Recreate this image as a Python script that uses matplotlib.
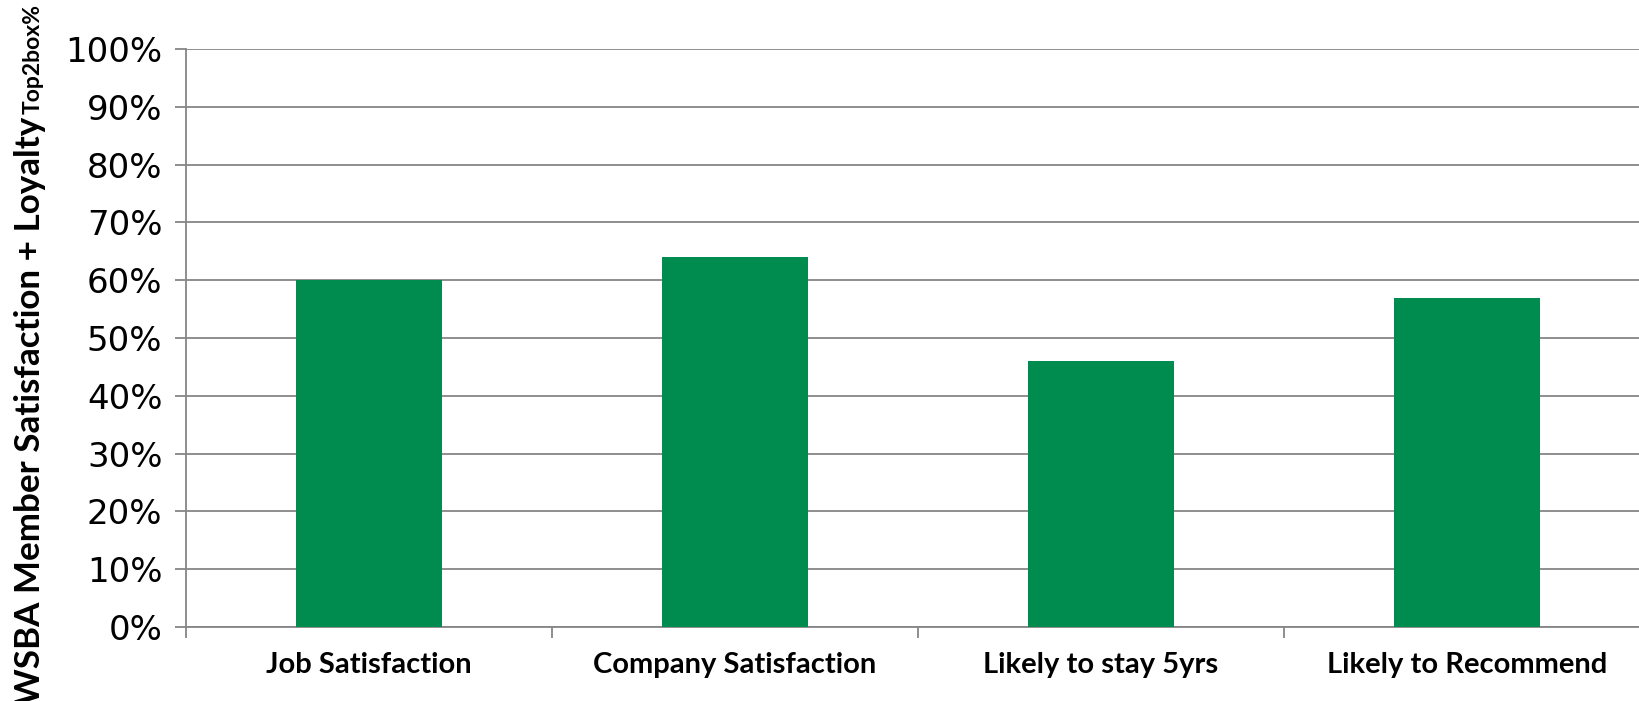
import matplotlib
matplotlib.use("Agg")
import matplotlib.pyplot as plt
import numpy as np

# data
categories = ["Job Satisfaction", "Company Satisfaction", "Likely to stay 5yrs", "Likely to Recommend"]
values = [60, 64, 46, 57]
y_ticks = [0, 10, 20, 30, 40, 50, 60, 70, 80, 90, 100]
y_tick_labels = [f"{v}%" for v in y_ticks]

bar_color = "#008C4F"
grid_color = "#868686"

fig = plt.figure(figsize=(16.39, 7.01), dpi=100)
# axes extends a little past the right edge, as in the original
ax = fig.add_axes([186 / 1639, 74 / 701, 1464 / 1639, 578 / 701])

x = np.arange(len(categories))
ax.bar(x, values, width=0.4, color=bar_color, zorder=3)

ax.set_xlim(-0.5, len(categories) - 0.5)
ax.set_ylim(0, 100)

ax.set_yticks(y_ticks)
ax.set_yticklabels(y_tick_labels, fontsize=24.5, family="DejaVu Sans")
ax.yaxis.grid(True, color=grid_color, linewidth=1.3, zorder=0)

ax.set_xticks(x)
ax.set_xticklabels(categories, fontsize=21, family="Lato", fontweight="bold")
ax.set_xticks(np.arange(-0.5, len(categories)), minor=True)
ax.tick_params(axis="x", which="major", length=0, pad=18)
ax.tick_params(axis="x", which="minor", length=8, width=1.3, color=grid_color, direction="out")
ax.tick_params(axis="y", length=8, width=1.3, color=grid_color, direction="out", pad=9)

for side in ["top", "right"]:
    ax.spines[side].set_visible(False)
for side in ["left", "bottom"]:
    ax.spines[side].set_color(grid_color)
    ax.spines[side].set_linewidth(1.3)

# rotated y label with smaller "Top2box%" suffix
main = fig.text(40 / 1639, -4 / 701, "WSBA Member Satisfaction + Loyalty",
                rotation=90, rotation_mode="anchor", ha="left", va="baseline",
                fontsize=25.2, family="Lato", fontweight="bold")
fig.canvas.draw()
bb = main.get_window_extent(fig.canvas.get_renderer())
fig.text(40 / 1639, (bb.y1 + 3) / 701, "Top2box%",
         rotation=90, rotation_mode="anchor", ha="left", va="baseline",
         fontsize=16.5, family="Lato", fontweight="bold")

fig.savefig("out.png", dpi=100)
